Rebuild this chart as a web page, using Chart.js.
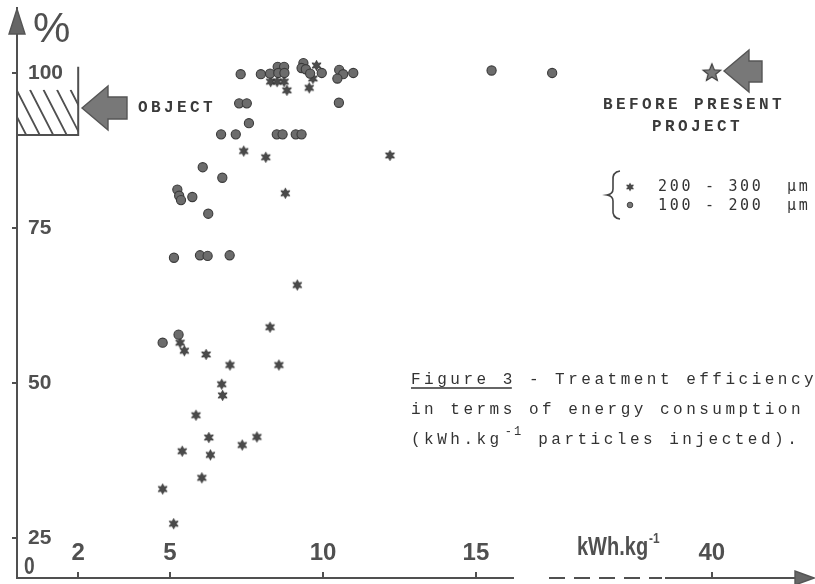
<!DOCTYPE html>
<html><head><meta charset="utf-8">
<script src="https://cdn.jsdelivr.net/npm/chart.js@4.4.1/dist/chart.umd.min.js"></script>
<style>html,body{margin:0;padding:0;background:#fff;}canvas{display:block;}</style>
</head><body>
<canvas id="c" width="815" height="584"></canvas>
<script>
// ---- data ----
// 100 - 200 µm particles (circles): energy (kWh/kg), efficiency (%)
const fineX = [7.31, 7.97, 8.27, 8.52, 8.73, 8.54, 8.74, 9.36, 9.30, 9.44, 9.58, 9.96, 10.53, 10.66, 10.47, 10.99, 15.51, 17.49,
               7.26, 7.51, 10.52, 7.58, 6.67, 7.15, 8.49, 8.68, 9.11, 9.30, 6.07, 6.71, 5.24, 5.30, 5.36, 5.73, 6.25,
               5.13, 5.98, 6.23, 6.95, 5.28, 4.76];
const fineY = [99.8, 99.8, 99.9, 101.0, 101.0, 100.0, 100.0, 101.6, 100.8, 100.6, 99.9, 100.0, 100.5, 99.8, 99.1, 100.0, 100.4, 100.0,
               95.1, 95.1, 95.2, 91.9, 90.1, 90.1, 90.1, 90.1, 90.1, 90.1, 84.8, 83.1, 81.2, 80.2, 79.5, 80.0, 77.3,
               70.2, 70.6, 70.5, 70.6, 57.8, 56.5];
// 200 - 300 µm particles (stars)
const coarseX = [8.29, 8.50, 8.73, 8.82, 9.79, 9.67, 9.55, 7.41, 8.13, 12.19, 8.77, 9.16, 8.27, 5.33, 5.47, 6.18, 6.96, 8.56,
                 6.69, 6.72, 5.85, 6.27, 7.84, 7.36, 5.40, 6.32, 6.04, 4.76, 5.12];
const coarseY = [98.6, 98.6, 98.6, 97.2, 101.2, 99.1, 97.6, 87.4, 86.4, 86.7, 80.6, 65.8, 59.0, 56.5, 55.2, 54.6, 52.9, 52.9,
                 49.8, 48.0, 44.8, 41.2, 41.3, 40.0, 39.0, 38.4, 34.7, 32.9, 27.3];
// before present project
const beforeX = [40];
const beforeY = [100];

const xTickValues = [2, 5, 10, 15, 40];
const xTickLabels = ['2', '5', '10', '15', '40'];
const yTickValues = [25, 50, 75, 100];
const yTickLabels = ['25', '50', '75', '100'];
const legendLabels = ['200 - 300  µm', '100 - 200  µm'];
const captionLines = ['Figure 3', ' - Treatment efficiency', 'in terms of energy consumption', '(kWh.kg', '-1', ' particles injected).'];

// broken x axis: linear up to 18, compressed after the break
const AXIS_BREAK = 18, BREAK_SCALE = 0.214;
function brk(v) { return v <= AXIS_BREAK ? v : AXIS_BREAK + (v - AXIS_BREAK) * BREAK_SCALE; }

const INK = '#505050';
const SANS = "'Liberation Sans',Arial,sans-serif";
const MONO = "'Liberation Mono','DejaVu Sans Mono',monospace";

function makeStar(points, rOuter, rInner, size, fill, stroke, lw) {
  const c = document.createElement('canvas');
  c.width = c.height = size;
  const g = c.getContext('2d');
  const cx = size / 2, cy = size / 2;
  g.beginPath();
  for (let i = 0; i < points * 2; i++) {
    const r = i % 2 ? rInner : rOuter;
    const a = -Math.PI / 2 + i * Math.PI / points;
    const px = cx + r * Math.cos(a), py = cy + r * Math.sin(a);
    if (i) g.lineTo(px, py); else g.moveTo(px, py);
  }
  g.closePath();
  g.fillStyle = fill; g.fill();
  g.strokeStyle = stroke; g.lineWidth = lw; g.stroke();
  return c;
}
const smallStar = makeStar(6, 5.2, 2.6, 13, '#4a4a4a', '#2e2e2e', 0.8);
const bigStar = makeStar(5, 9.2, 4.0, 22, '#7a7a7a', '#404040', 1.2);

function polygon(g, pts, fill, stroke) {
  g.beginPath();
  pts.forEach((p, i) => i ? g.lineTo(p[0], p[1]) : g.moveTo(p[0], p[1]));
  g.closePath();
  g.fillStyle = fill; g.fill();
  g.strokeStyle = stroke; g.lineWidth = 1.4; g.stroke();
}
// draw horizontally condensed text (hand-lettered look)
function narrowText(g, txt, x, y, sx) {
  g.save(); g.translate(x, y); g.scale(sx, 1); g.fillText(txt, 0, 0); g.restore();
  return g.measureText(txt).width * sx;
}

const annot = {
  id: 'annot',
  afterDraw(chart) {
    const g = chart.ctx, xs = chart.scales.x, ys = chart.scales.y, a = chart.chartArea;
    const X = v => xs.getPixelForValue(brk(v)), Y = v => ys.getPixelForValue(v);
    g.save();
    g.strokeStyle = INK; g.fillStyle = INK; g.lineCap = 'butt';

    // y axis arrow head
    polygon(g, [[a.left, 9], [a.left - 8, 34], [a.left + 8, 34]], '#666', '#555');

    // broken x axis
    const y0 = a.bottom;
    g.lineWidth = 2.2; g.strokeStyle = INK;
    g.beginPath(); g.moveTo(a.left - 1, y0); g.lineTo(514, y0); g.stroke();
    g.setLineDash([16, 9]);
    g.beginPath(); g.moveTo(549, y0); g.lineTo(662, y0); g.stroke();
    g.setLineDash([]);
    g.beginPath(); g.moveTo(665, y0); g.lineTo(800, y0); g.stroke();
    polygon(g, [[814, y0], [795, y0 - 7], [795, y0 + 7]], '#666', '#555');

    // origin label
    g.fillStyle = INK; g.font = "bold 24px " + SANS; g.textAlign = 'left'; g.textBaseline = 'alphabetic';
    narrowText(g, '0', a.left + 7, 574, 0.8);

    // percent sign
    g.font = "42px " + SANS;
    g.fillText('%', 33, 42);

    // x axis unit
    g.font = "bold 25px " + SANS;
    const uw = narrowText(g, 'kWh.kg', 577, 555, 0.8);
    g.font = "bold 14px " + SANS;
    narrowText(g, '-1', 577 + uw + 1, 543, 0.85);

    // hatched OBJECT box
    const bx0 = a.left, bx1 = X(2), byTop = Y(101), byBot = Y(90), hTop = Y(97.3);
    g.lineWidth = 2; g.strokeStyle = INK;
    g.beginPath(); g.moveTo(bx1, byTop); g.lineTo(bx1, byBot); g.lineTo(bx0, byBot); g.stroke();
    g.save();
    g.beginPath(); g.rect(bx0, hTop, bx1 - bx0, byBot - hTop); g.clip();
    g.beginPath();
    for (let k = -3; k < 5; k++) {
      const xt = bx0 + 13 + k * 13.5;
      g.moveTo(xt, hTop); g.lineTo(xt + (byBot - hTop) / 1.95, byBot);
    }
    g.lineWidth = 1.8; g.stroke();
    g.restore();

    // OBJECT arrow + label
    polygon(g, [[82, 108], [108, 86], [108, 97], [127, 97], [127, 119], [108, 119], [108, 130]], '#787878', '#555');
    g.fillStyle = '#3a3a3a';
    g.font = "bold 16px " + MONO;
    g.letterSpacing = '3.4px';
    g.fillText('OBJECT', 138, 112);

    // BEFORE PRESENT PROJECT arrow + label
    polygon(g, [[724, 71], [749, 50], [749, 61], [762, 61], [762, 82], [749, 82], [749, 92]], '#787878', '#555');
    g.fillStyle = '#3a3a3a';
    g.fillText('BEFORE PRESENT', 603, 109);
    g.fillText('PROJECT', 652, 131);

    // legend
    g.letterSpacing = '2.7px';
    g.font = "15px 'DejaVu Sans Mono',monospace";
    g.fillStyle = '#333';
    g.fillText(legendLabels[0], 658, 191);
    g.fillText(legendLabels[1], 658, 210);
    g.drawImage(smallStar, 630 - 5, 187 - 5, 10, 10);
    g.beginPath(); g.arc(630, 205, 2.8, 0, Math.PI * 2); g.fillStyle = '#777'; g.fill();
    g.strokeStyle = '#444'; g.lineWidth = 1; g.stroke();
    g.beginPath();
    g.moveTo(620, 171); g.quadraticCurveTo(612, 172, 613, 181); g.lineTo(613, 189);
    g.quadraticCurveTo(613, 194, 607, 195); g.quadraticCurveTo(613, 196, 613, 201);
    g.lineTo(613, 209); g.quadraticCurveTo(612, 218, 620, 219);
    g.strokeStyle = '#444'; g.lineWidth = 1.6; g.stroke();

    // caption
    g.fillStyle = '#333';
    g.font = "16px " + MONO;
    g.letterSpacing = '3.5px';
    g.fillText(captionLines[0], 411, 384);
    const fw = g.measureText(captionLines[0]).width;
    g.beginPath(); g.moveTo(411, 388); g.lineTo(411 + fw - 4, 388); g.lineWidth = 1.6; g.strokeStyle = '#333'; g.stroke();
    g.fillText(captionLines[1], 411 + fw, 384);
    g.fillText(captionLines[2], 411, 414);
    g.fillText(captionLines[3], 411, 444);
    const w3 = g.measureText(captionLines[3]).width;
    g.font = "12px " + MONO; g.letterSpacing = '2px';
    g.fillText(captionLines[4], 411 + w3 + 2, 435);
    const w4 = g.measureText(captionLines[4]).width;
    g.font = "16px " + MONO; g.letterSpacing = '3.5px';
    g.fillText(captionLines[5], 411 + w3 + w4 + 4, 444);

    g.restore();
  }
};

const fineData = fineX.map((x, i) => ({ x: brk(x), y: fineY[i] }));
const coarseData = coarseX.map((x, i) => ({ x: brk(x), y: coarseY[i] }));
const beforeData = beforeX.map((x, i) => ({ x: brk(x), y: beforeY[i] }));

new Chart(document.getElementById('c'), {
  type: 'scatter',
  data: {
    datasets: [
      { label: '100 - 200 µm', data: fineData, pointStyle: 'circle', pointRadius: 4.6,
        backgroundColor: '#6c6c6c', borderColor: '#3a3a3a', borderWidth: 1.1 },
      { label: '200 - 300 µm', data: coarseData, pointStyle: smallStar, pointRadius: 5 },
      { label: 'Before present project', data: beforeData, pointStyle: bigStar, pointRadius: 10 }
    ]
  },
  options: {
    responsive: false,
    animation: false,
    devicePixelRatio: 1,
    layout: { autoPadding: false, padding: { top: 8, left: 0, right: 0, bottom: 0 } },
    plugins: { legend: { display: false }, tooltip: { enabled: false } },
    scales: {
      x: {
        type: 'linear', min: 0, max: 26.08,
        afterFit(s) { s.height = 6; s.paddingLeft = 0; s.paddingRight = 0; },
        afterBuildTicks(s) { s.ticks = xTickValues.map(v => ({ value: brk(v) })); },
        ticks: {
          callback: (v, i) => xTickLabels[i],
          autoSkip: false, maxRotation: 0, minRotation: 0,
          mirror: true,
          padding: 13,
          color: INK,
          font: { family: SANS, size: 24, weight: 'bold', lineHeight: 1 }
        },
        grid: { drawOnChartArea: false, drawTicks: true, tickLength: -6, color: INK, lineWidth: 2 },
        border: { display: false }
      },
      y: {
        type: 'linear', min: 18.55, max: 110.48,
        afterFit(s) { s.width = 17; s.paddingTop = 0; s.paddingBottom = 0; },
        afterBuildTicks(s) { s.ticks = yTickValues.map(v => ({ value: v })); },
        ticks: {
          callback: (v, i) => yTickLabels[i],
          mirror: true, padding: 11,
          color: INK,
          font: { family: SANS, size: 21, weight: 'bold' }
        },
        grid: { drawOnChartArea: false, drawTicks: true, tickLength: 5, color: INK, lineWidth: 2 },
        border: { display: true, color: INK, width: 2 }
      }
    }
  },
  plugins: [annot]
});
</script>
</body></html>
